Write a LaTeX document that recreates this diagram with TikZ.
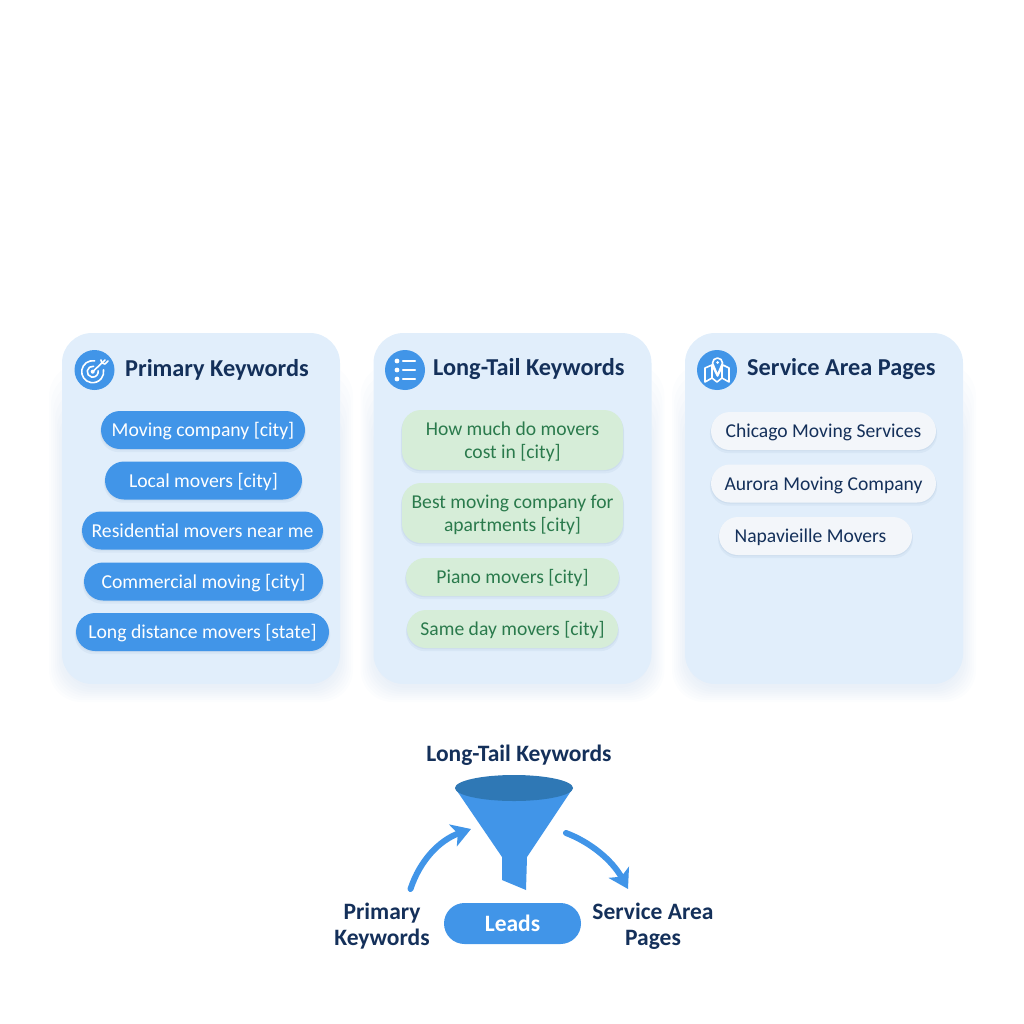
\documentclass[tikz,border=0pt]{standalone}
\usepackage{fontspec}
\setmainfont{Carlito}
\usetikzlibrary{arrows.meta,shadows}
\definecolor{navy}{HTML}{14305A}
\definecolor{cardblue}{HTML}{E1EEFB}
\definecolor{mainblue}{HTML}{4195E8}
\definecolor{darkblue}{HTML}{2F78B5}
\definecolor{leaf}{HTML}{D6EDD8}
\definecolor{leaftext}{HTML}{2A7A4C}
\definecolor{chalk}{HTML}{F3F6FA}
\definecolor{shade}{HTML}{5A7FA8}
\definecolor{cardshade}{HTML}{6F9BD0}
\tikzset{
  softpill/.style={
    general shadow={shadow yshift=-1pt,shadow scale=1.005,fill=shade,opacity=.08},
    general shadow={shadow yshift=-3pt,shadow scale=1.01,fill=shade,opacity=.07}},
  card/.style={fill=cardblue,rounded corners=30pt,minimum width=278pt,minimum height=351pt},
  badge/.style={circle,fill=mainblue,minimum size=40pt,inner sep=0pt},
  cardtitle/.style={anchor=west,text=navy,font=\fontsize{24.3}{28}\selectfont\bfseries,inner sep=0pt},
  onerow/.style={text height=13pt,text depth=0pt},
  tworow/.style={text height=37pt,text depth=0pt,minimum height=60pt},
  bluepill/.style={softpill,onerow,fill=mainblue,text=white,font=\fontsize{19.7}{23}\selectfont,rounded corners=19pt,minimum height=38pt,inner sep=0pt},
  greenpill/.style={softpill,fill=leaf,text=leaftext,font=\fontsize{19.6}{23}\selectfont,rounded corners=19pt,minimum height=38pt,inner sep=0pt,align=center},
  whitepill/.style={softpill,onerow,fill=chalk,text=navy,font=\fontsize{19.6}{23}\selectfont,rounded corners=19pt,minimum height=38pt,inner sep=0pt},
  flowlabel/.style={text=navy,font=\fontsize{23.5}{26}\selectfont\bfseries,align=center,inner sep=0pt},
  flowarrow/.style={draw=mainblue,line width=6pt,line cap=round,-{Stealth[length=19pt,width=23pt,inset=5pt]}},
  iconline/.style={draw=white,line width=1.6pt,line cap=round,line join=round}
}
\begin{document}
\begin{tikzpicture}[x=1pt,y=-1pt]
\useasboundingbox (0,0) rectangle (1024,1024);
\foreach \cardx in {201,512.5,824} {
  \foreach \grow in {0,2,...,14} {
    \fill[cardshade,opacity=.018,rounded corners=32pt] (\cardx-138-\grow,420-4*\grow) rectangle (\cardx+138+\grow,688+\grow);
  }
}
\node[card] (primarycard) at (201,508.5) {};
\node[card] (longcard) at (512.5,508.5) {};
\node[card] (areacard) at (824,508.5) {};
\node[badge] (primarybadge) at (94.5,370) {};
\node[badge] (longbadge) at (405,370) {};
\node[badge] (areabadge) at (717,370) {};
\node[cardtitle] (primarytitle) at (125,369.5) {Primary Keywords};
\node[cardtitle] (longtitle) at (433,369.5) {Long-Tail Keywords};
\node[cardtitle] (areatitle) at (747,369.5) {Service Area Pages};
\draw[iconline] (92.7,371.7) ++(80:11pt) arc[start angle=80,end angle=370,radius=11pt];
\draw[iconline] (92.7,371.7) ++(80:5.5pt) arc[start angle=80,end angle=370,radius=5.5pt];
\draw[iconline] (92.7,371.7) -- (105,360);
\draw[iconline] (101,360) -- (102,363) -- (105,364) -- (108,361);
\fill[white] (92.7,371.7) circle (2pt);
\foreach \rowy in {361,370,379} {
  \fill[white] (397,\rowy) circle (2.4pt);
  \draw[white,line width=2.4pt,line cap=round] (403,\rowy) -- (415,\rowy);
}
\draw[iconline] (705,368) -- (712,365) -- (717.5,376) -- (723,365) -- (729,368) -- (729,382) -- (722,378) -- (717,382) -- (712,378) -- (705,382) -- cycle;
\draw[iconline] (712,365) -- (712,378) (722,366) -- (722,378);
\draw[iconline,fill=mainblue] (717.5,375) -- (722.5,363) arc[start angle=0,end angle=180,radius=5pt] -- cycle;
\fill[white] (717.5,362.5) circle (1.5pt);
\node[bluepill,minimum width=204pt] (primaryone) at (203,430) {Moving company [city]};
\node[bluepill,minimum width=197pt] (primarytwo) at (203.5,480.5) {Local movers [city]};
\node[bluepill,minimum width=241pt] (primarythree) at (202.5,530.5) {Residential movers near me};
\node[bluepill,minimum width=239pt] (primaryfour) at (203.5,581.5) {Commercial moving [city]};
\node[bluepill,minimum width=253pt] (primaryfive) at (202.5,632) {Long distance movers [state]};
\node[greenpill,tworow,minimum width=221pt] (longone) at (512.5,440) {How much do movers\\cost in [city]};
\node[greenpill,tworow,minimum width=221pt] (longtwo) at (512.5,513) {Best moving company for\\apartments [city]};
\node[greenpill,onerow,minimum width=213pt] (longthree) at (512.5,577) {Piano movers [city]};
\node[greenpill,onerow,minimum width=211pt] (longfour) at (512.5,629) {Same day movers [city]};
\node[whitepill,minimum width=225pt] (areaone) at (823.5,431) {Chicago Moving Services};
\node[whitepill,minimum width=225pt] (areatwo) at (823.5,483.5) {Aurora Moving Company};
\node[whitepill,minimum width=193pt] (areathree) at (815.5,536) {\hspace{-10pt}Napavieille Movers};
\node[flowlabel] (funneltop) at (519,755.5) {Long-Tail Keywords};
\fill[mainblue] (455,788) -- (573,788) -- (527,857) -- (526,890) -- (502,880) -- (502,857) -- cycle;
\fill[darkblue] (514,788) ellipse (59pt and 13pt);
\node[flowlabel] (primarylabel) at (382,926) {Primary\\Keywords};
\node[flowlabel] (arealabel) at (653,926) {Service Area\\Pages};
\node[fill=mainblue,text=white,rounded corners=20.5pt,minimum width=137pt,minimum height=41pt,inner sep=0pt,font=\fontsize{23.5}{26}\selectfont\bfseries] (leads) at (512.5,923.5) {Leads};
\coordinate (arrowstart) at (410.5,889);
\coordinate (arrowend) at (471,829);
\coordinate (returnstart) at (566,833);
\coordinate (returnend) at (628,889);
\draw[flowarrow] (arrowstart) .. controls (420,860) and (440,840) .. (arrowend);
\draw[flowarrow] (returnstart) .. controls (590,842) and (612,860) .. (returnend);
\end{tikzpicture}
\end{document}
